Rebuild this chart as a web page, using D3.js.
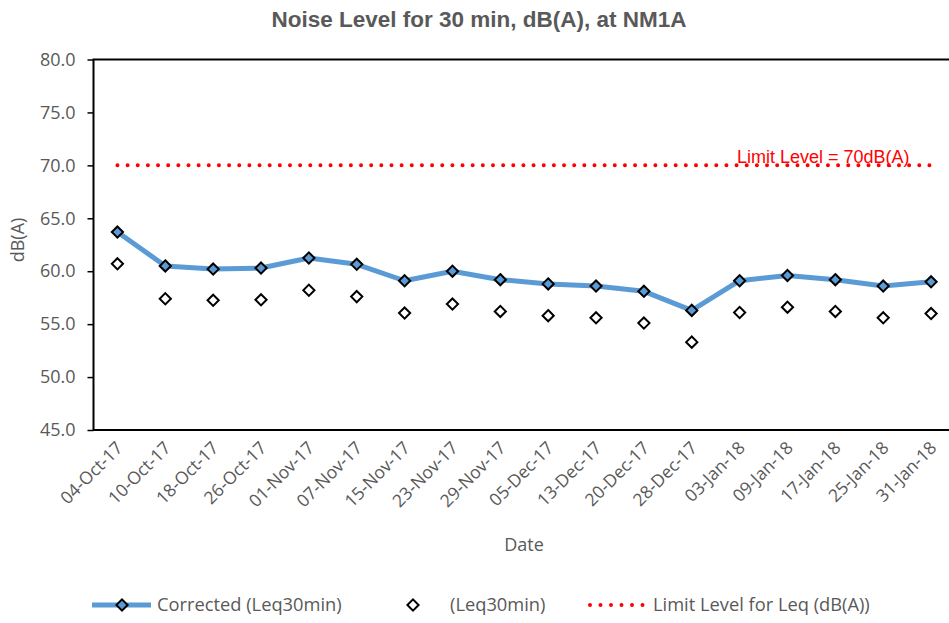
<!DOCTYPE html>
<html>
<head>
<meta charset="utf-8">
<script src="https://cdn.jsdelivr.net/npm/d3@7/dist/d3.min.js"></script>
<style>
  body { margin: 0; background: #fff; }
  svg { display: block; }
</style>
</head>
<body>
<div id="chart"></div>
<script>
'use strict';

// data
const dates = ['04-Oct-17', '10-Oct-17', '18-Oct-17', '26-Oct-17', '01-Nov-17', '07-Nov-17',
  '15-Nov-17', '23-Nov-17', '29-Nov-17', '05-Dec-17', '13-Dec-17', '20-Dec-17',
  '28-Dec-17', '03-Jan-18', '09-Jan-18', '17-Jan-18', '25-Jan-18', '31-Jan-18'];
const corrected = [63.7, 60.5, 60.2, 60.3, 61.25, 60.65, 59.1, 60.0, 59.2, 58.8, 58.6, 58.1,
  56.3, 59.1, 59.6, 59.2, 58.6, 59.0];
const leq = [60.7, 57.4, 57.25, 57.3, 58.2, 57.6, 56.05, 56.9, 56.2, 55.8, 55.6, 55.1,
  53.3, 56.1, 56.6, 56.2, 55.6, 56.0];
const limit = 70;
const yTicks = [45, 50, 55, 60, 65, 70, 75, 80];

const width = 949, height = 623;
const plot = { left: 93.5, right: 955, top: 59.5, bottom: 430 };
const grey = '#595959';
const blue = '#5B9BD5';
const font = "'Open Sans', sans-serif";

const svg = d3.select('#chart').append('svg')
  .attr('width', width)
  .attr('height', height);

const x = d3.scalePoint()
  .domain(dates)
  .range([plot.left, plot.right])
  .padding(0.5);

const y = d3.scaleLinear()
  .domain([45, 80])
  .range([plot.bottom, plot.top]);

// title
svg.append('text')
  .attr('x', 479)
  .attr('y', 27)
  .attr('text-anchor', 'middle')
  .style('font-family', "'Liberation Sans', Arial, sans-serif")
  .style('font-size', '22.5px')
  .style('font-weight', 'bold')
  .attr('fill', grey)
  .text('Noise Level for 30 min, dB(A), at NM1A');

// plot frame
svg.append('rect')
  .attr('x', plot.left)
  .attr('y', plot.top)
  .attr('width', plot.right - plot.left)
  .attr('height', plot.bottom - plot.top)
  .attr('fill', 'none')
  .attr('stroke', 'black')
  .attr('stroke-width', 2);

// y axis
const yAxis = d3.axisLeft(y)
  .tickValues(yTicks)
  .tickSize(6)
  .tickPadding(12)
  .tickFormat(d3.format('.1f'));

const yg = svg.append('g')
  .attr('transform', `translate(${plot.left},0)`)
  .call(yAxis);
yg.select('.domain').remove();
yg.selectAll('.tick line').attr('stroke', 'black').attr('stroke-width', 1.5);
yg.selectAll('.tick text')
  .style('font-family', font)
  .style('font-size', '18px')
  .attr('fill', grey);

// x axis labels (no tick marks)
const xg = svg.append('g')
  .attr('transform', `translate(0,${plot.bottom})`)
  .call(d3.axisBottom(x).tickSize(0).tickPadding(0));
xg.select('.domain').remove();
xg.selectAll('.tick text')
  .attr('text-anchor', 'end')
  .attr('dy', 0)
  .attr('y', 0)
  .attr('transform', 'translate(6,19) rotate(-45)')
  .style('font-family', font)
  .style('font-size', '17.5px')
  .attr('fill', grey);

// axis titles
svg.append('text')
  .attr('transform', 'translate(24,240) rotate(-90)')
  .attr('text-anchor', 'middle')
  .style('font-family', font)
  .style('font-size', '18px')
  .attr('fill', grey)
  .text('dB(A)');

svg.append('text')
  .attr('x', 524)
  .attr('y', 551)
  .attr('text-anchor', 'middle')
  .style('font-family', font)
  .style('font-size', '18px')
  .attr('fill', grey)
  .text('Date');

// limit line
svg.append('line')
  .attr('x1', x(dates[0]))
  .attr('x2', x(dates[dates.length - 1]))
  .attr('y1', y(limit))
  .attr('y2', y(limit))
  .attr('stroke', 'red')
  .attr('stroke-width', 4)
  .attr('stroke-linecap', 'round')
  .attr('stroke-dasharray', '0 10.15');

svg.append('text')
  .attr('x', 737)
  .attr('y', y(limit) - 2)
  .style('font-family', "'Liberation Sans', Arial, sans-serif")
  .style('font-size', '18px')
  .attr('fill', 'red')
  .text('Limit Level = 70dB(A)');

// corrected line
const line = d3.line()
  .x((d, i) => x(dates[i]))
  .y(d => y(d));

svg.append('path')
  .datum(corrected)
  .attr('d', line)
  .attr('fill', 'none')
  .attr('stroke', blue)
  .attr('stroke-width', 5)
  .attr('stroke-linejoin', 'round');

const diamond = d3.symbol().type(d3.symbolDiamond2).size(80);

function drawMarkers(values, fill) {
  svg.append('g')
    .selectAll('path')
    .data(values)
    .join('path')
    .attr('d', diamond)
    .attr('transform', (d, i) => `translate(${x(dates[i])},${y(d)})`)
    .attr('fill', fill)
    .attr('stroke', 'black')
    .attr('stroke-width', 2);
}
drawMarkers(corrected, blue);
drawMarkers(leq, 'white');

// legend
const legY = 605;
const leg = svg.append('g');

leg.append('line')
  .attr('x1', 92).attr('x2', 151)
  .attr('y1', legY).attr('y2', legY)
  .attr('stroke', blue)
  .attr('stroke-width', 5);
leg.append('path')
  .attr('d', diamond)
  .attr('transform', `translate(122,${legY})`)
  .attr('fill', blue)
  .attr('stroke', 'black')
  .attr('stroke-width', 2);
leg.append('text')
  .attr('x', 157).attr('y', legY)
  .attr('dy', '0.35em')
  .style('font-family', font)
  .style('font-size', '18.3px')
  .attr('fill', grey)
  .text('Corrected (Leq30min)');

leg.append('path')
  .attr('d', diamond)
  .attr('transform', `translate(413,${legY})`)
  .attr('fill', 'white')
  .attr('stroke', 'black')
  .attr('stroke-width', 2);
leg.append('text')
  .attr('x', 450).attr('y', legY)
  .attr('dy', '0.35em')
  .style('font-family', font)
  .style('font-size', '18.3px')
  .attr('fill', grey)
  .text('(Leq30min)');

leg.append('line')
  .attr('x1', 590).attr('x2', 645)
  .attr('y1', legY).attr('y2', legY)
  .attr('stroke', 'red')
  .attr('stroke-width', 4)
  .attr('stroke-linecap', 'round')
  .attr('stroke-dasharray', '0 10.5');
leg.append('text')
  .attr('x', 653).attr('y', legY)
  .attr('dy', '0.35em')
  .style('font-family', font)
  .style('font-size', '18.3px')
  .attr('fill', grey)
  .text('Limit Level for Leq (dB(A))');
</script>
</body>
</html>
